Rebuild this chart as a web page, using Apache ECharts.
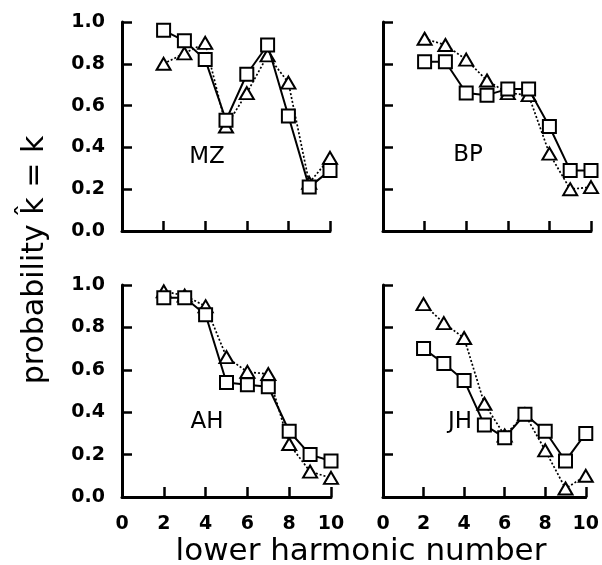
<!DOCTYPE html>
<html>
<head>
<meta charset="utf-8">
<script src="https://cdn.jsdelivr.net/npm/echarts@6/dist/echarts.min.js"></script>
<style>
    html, body { margin: 0; padding: 0; background: #fff; }
    #harmonic_chart { width: 602px; height: 565px; }
</style>
</head>
<body>
<div id="harmonic_chart"></div>
<script>

// Chart data
// ------------------------------

var harmonics = [2, 3, 4, 5, 6, 7, 8, 9, 10];
var xTicks = [0, 2, 4, 6, 8, 10];
var yTicks = [0.0, 0.2, 0.4, 0.6, 0.8, 1.0];

var listeners = ['MZ', 'BP', 'AH', 'JH'];

// squares (solid line)
var mzSquare = [0.96, 0.91, 0.82, 0.53, 0.75, 0.89, 0.55, 0.21, 0.29];
var bpSquare = [0.81, 0.81, 0.66, 0.65, 0.68, 0.68, 0.50, 0.29, 0.29];
var ahSquare = [0.94, 0.94, 0.86, 0.54, 0.53, 0.52, 0.31, 0.20, 0.17];
var jhSquare = [0.70, 0.63, 0.55, 0.34, 0.28, 0.39, 0.31, 0.17, 0.30];

// triangles (dotted line)
var mzTriangle = [0.80, 0.85, 0.90, 0.50, 0.66, 0.84, 0.71, 0.23, 0.35];
var bpTriangle = [0.92, 0.89, 0.82, 0.72, 0.66, 0.65, 0.37, 0.20, 0.21];
var ahTriangle = [0.97, 0.95, 0.90, 0.66, 0.59, 0.58, 0.25, 0.12, 0.09];
var jhTriangle = [0.91, 0.82, 0.75, 0.44, 0.29, 0.39, 0.22, 0.04, 0.10];


var HarmonicPanels = function() {

    var squares = [mzSquare, bpSquare, ahSquare, jhSquare];
    var triangles = [mzTriangle, bpTriangle, ahTriangle, jhTriangle];

    // panel boxes: left, top, width, height
    var boxes = [
        [122, 22, 208, 209],
        [383, 22, 208, 209],
        [122, 285, 209, 212],
        [383, 285, 208, 212]
    ];

    // label centres inside each panel
    var labelPos = [[207, 157], [468, 155], [207, 422], [460, 422]];

    var pairs = function(values) {
        return harmonics.map(function(h, i) { return [h, values[i]]; });
    };

    var _init = function() {
        var element = document.getElementById('harmonic_chart');
        var chart = echarts.init(element, null, { renderer: 'canvas' });

        var grid = [], xAxis = [], yAxis = [], series = [], graphic = [];

        boxes.forEach(function(b, i) {
            var isLeft = (i % 2 === 0);
            var isBottom = (i >= 2);

            grid.push({ left: b[0], top: b[1], width: b[2], height: b[3] });

            // Horizontal axis
            xAxis.push({
                gridIndex: i,
                type: 'value',
                min: xTicks[0],
                max: xTicks[xTicks.length - 1],
                interval: 2,
                axisLine: { lineStyle: { color: '#000', width: 3 } },
                axisTick: { inside: true, length: 10, lineStyle: { color: '#000', width: 2.5 } },
                axisLabel: {
                    show: isBottom,
                    color: '#000',
                    fontFamily: 'DejaVu Sans',
                    fontWeight: 'bold',
                    fontSize: 19,
                    margin: 18
                },
                splitLine: { show: false }
            });

            // Vertical axis
            yAxis.push({
                gridIndex: i,
                type: 'value',
                min: yTicks[0],
                max: yTicks[yTicks.length - 1],
                interval: 0.2,
                axisLine: { show: true, lineStyle: { color: '#000', width: 3 } },
                axisTick: { show: true, inside: true, length: 10, lineStyle: { color: '#000', width: 2.5 } },
                axisLabel: {
                    show: isLeft,
                    color: '#000',
                    fontFamily: 'DejaVu Sans',
                    fontWeight: 'bold',
                    fontSize: 19,
                    margin: 17,
                    formatter: function(v) { return v.toFixed(1); }
                },
                splitLine: { show: false }
            });

            series.push({
                type: 'line',
                xAxisIndex: i,
                yAxisIndex: i,
                data: pairs(triangles[i]),
                symbol: 'triangle',
                symbolSize: [14, 12],
                lineStyle: { color: '#000', width: 1.7, type: [2, 2] },
                itemStyle: { color: '#fff', borderColor: '#000', borderWidth: 2 },
                animation: false,
                z: 2
            });

            series.push({
                type: 'line',
                xAxisIndex: i,
                yAxisIndex: i,
                data: pairs(squares[i]),
                symbol: 'rect',
                symbolSize: 13,
                lineStyle: { color: '#000', width: 2 },
                itemStyle: { color: '#fff', borderColor: '#000', borderWidth: 2 },
                animation: false,
                z: 3
            });

            graphic.push({
                type: 'text',
                x: labelPos[i][0],
                y: labelPos[i][1],
                style: {
                    text: listeners[i],
                    fill: '#000',
                    font: '23px "DejaVu Sans"',
                    align: 'center',
                    verticalAlign: 'middle'
                }
            });
        });

        // Axis titles
        graphic.push({
            type: 'text',
            x: 35,
            y: 260,
            rotation: Math.PI / 2,
            style: {
                text: 'probability k\u0302 = k',
                fill: '#000',
                font: '30px "DejaVu Sans"',
                align: 'center',
                verticalAlign: 'middle'
            }
        });
        graphic.push({
            type: 'text',
            x: 361,
            y: 552,
            style: {
                text: 'lower harmonic number',
                fill: '#000',
                font: '31px "DejaVu Sans"',
                align: 'center',
                verticalAlign: 'middle'
            }
        });

        chart.setOption({
            animation: false,
            grid: grid,
            xAxis: xAxis,
            yAxis: yAxis,
            series: series,
            graphic: graphic
        });
    };

    return {
        init: function() {
            _init();
        }
    };
}();

document.addEventListener('DOMContentLoaded', function() {
    HarmonicPanels.init();
});
</script>
</body>
</html>
